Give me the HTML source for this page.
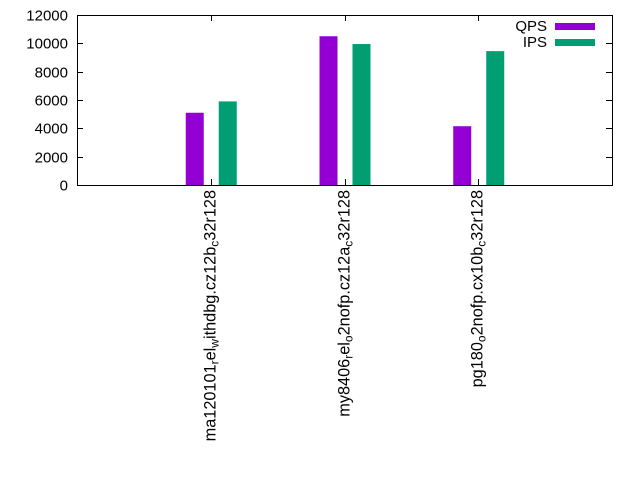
<!DOCTYPE html>
<html><head><meta charset="utf-8"><style>
html,body{margin:0;padding:0;background:#fff}
svg{display:block;font-family:"Liberation Sans",sans-serif}
</style></head><body>
<svg id="chart" width="640" height="480" viewBox="0 0 640 480" xmlns="http://www.w3.org/2000/svg">
<rect x="77.5" y="15.5" width="535" height="170" fill="none" stroke="#000" stroke-width="1"/>
<g id="yaxis"></g>
<g id="xaxis"></g>
<g id="bars"></g>
<g font-size="15">
<g><text x="547" y="31" text-anchor="end">QPS</text><rect x="555" y="23" width="40" height="7" fill="#9400d3"/></g>
<g><text x="547" y="47" text-anchor="end">IPS</text><rect x="555" y="39" width="40" height="7" fill="#009e73"/></g>
</g>
</svg>
<script>
const categories=[
 [["ma120101",0],["r",1],["el",0],["w",1],["ithdbg.cz12b",0],["c",1],["32r128",0]],
 [["my8406",0],["r",1],["el",0],["o",1],["2nofp.cz12a",0],["c",1],["32r128",0]],
 [["pg180",0],["o",1],["2nofp.cx10b",0],["c",1],["32r128",0]]
];
const qps=[5100,10500,4150];
const ips=[5900,9950,9450];
const yTicks=[0,2000,4000,6000,8000,10000,12000];
const NS="http://www.w3.org/2000/svg";
const L=77,R=612,T=15,B=185;
const x=i=>L+(i+1)*(R-L)/4;
const y=v=>B-v/12000*(B-T);
function mk(tag,attrs,parent){const e=document.createElementNS(NS,tag);for(const k in attrs)e.setAttribute(k,attrs[k]);parent.appendChild(e);return e;}
const ya=document.getElementById('yaxis'),xa=document.getElementById('xaxis'),bars=document.getElementById('bars');
yTicks.forEach(t=>{
 const yy=Math.round(y(t))+0.5;
 const l1=mk('line',{x1:L,x2:L+6,y1:yy,y2:yy,stroke:'#000'},ya);
 
 
 const l2=mk('line',{x1:R-6,x2:R,y1:yy,y2:yy,stroke:'#000'},ya);
 
 
 const tx=mk('text',{x:68,y:yy+5,'text-anchor':'end','font-size':'15'},ya);
 tx.textContent=t;
 
 
});
categories.forEach((parts,i)=>{
 const cx=Math.round(x(i))+0.5;
 const tk=mk('line',{x1:cx,x2:cx,y1:B-6,y2:B,stroke:'#000'},xa);
 
 
 const tt=mk('line',{x1:cx,x2:cx,y1:T,y2:T+6,stroke:'#000'},xa);
 
 
 const tx=mk('text',{x:0,y:0,'text-anchor':'end','font-size':'16.3',transform:`translate(${cx+4},190) rotate(-90)`},xa);
 
 
 parts.forEach(([s,sub])=>{
  const ts=mk('tspan',sub?{'font-size':'12','baseline-shift':'-3'}:{},tx);
  ts.textContent=s;
 });
 const bq=mk('rect',{x:x(i)-25,y:y(qps[i]),width:18,height:B-y(qps[i]),fill:'#9400d3'},bars);
 
 
 const bi=mk('rect',{x:x(i)+8,y:y(ips[i]),width:18,height:B-y(ips[i]),fill:'#009e73'},bars);
 
 
});
</script>
</body></html>
